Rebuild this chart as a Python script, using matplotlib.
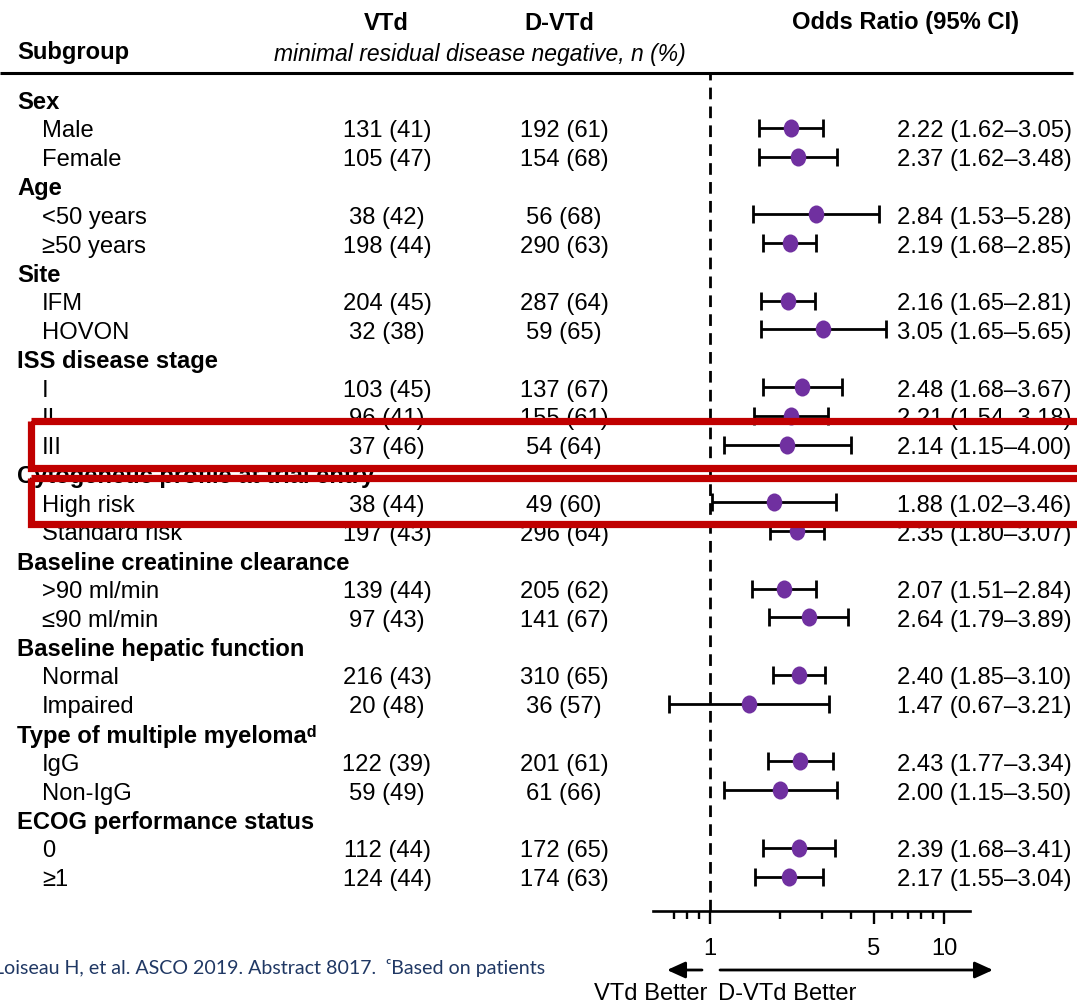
import matplotlib
matplotlib.use("Agg")
import matplotlib.pyplot as plt
import numpy as np
from matplotlib.path import Path
from matplotlib.patches import Rectangle

# subgroup table
sections = ["Sex", "Age", "Site", "ISS disease stage", "Cytogenetic profile at trial entry",
            "Baseline creatinine clearance", "Baseline hepatic function",
            "Type of multiple myeloma\u1d48", "ECOG performance status"]
section_sizes = [2, 2, 2, 3, 2, 2, 2, 2, 2]
subgroups = ["Male", "Female", "<50 years", "\u226550 years", "IFM", "HOVON", "I", "II", "III",
             "High risk", "Standard risk", ">90 ml/min", "\u226490 ml/min", "Normal", "Impaired",
             "IgG", "Non-IgG", "0", "\u22651"]
vtd_n = [131, 105, 38, 198, 204, 32, 103, 96, 37, 38, 197, 139, 97, 216, 20, 122, 59, 112, 124]
vtd_pct = [41, 47, 42, 44, 45, 38, 45, 41, 46, 44, 43, 44, 43, 43, 48, 39, 49, 44, 44]
dvtd_n = [192, 154, 56, 290, 287, 59, 137, 155, 54, 49, 296, 205, 141, 310, 36, 201, 61, 172, 174]
dvtd_pct = [61, 68, 68, 63, 64, 65, 67, 61, 64, 60, 64, 62, 67, 65, 57, 61, 66, 65, 63]
odds = [2.22, 2.37, 2.84, 2.19, 2.16, 3.05, 2.48, 2.21, 2.14, 1.88, 2.35, 2.07, 2.64, 2.40, 1.47,
        2.43, 2.00, 2.39, 2.17]
ci_low = [1.62, 1.62, 1.53, 1.68, 1.65, 1.65, 1.68, 1.54, 1.15, 1.02, 1.80, 1.51, 1.79, 1.85, 0.67,
          1.77, 1.15, 1.68, 1.55]
ci_high = [3.05, 3.48, 5.28, 2.85, 2.81, 5.65, 3.67, 3.18, 4.00, 3.46, 3.07, 2.84, 3.89, 3.10, 3.21,
           3.34, 3.50, 3.41, 3.04]

W, H = 1077, 1004
FONT = ["Liberation Sans", "DejaVu Sans"]
FS = 17.1
plt.rcParams['font.family'] = FONT

fig = plt.figure(figsize=(W / 100, H / 100), dpi=100)

# text layer in pixel coordinates
tx = fig.add_axes([0, 0, 1, 1])
tx.set_xlim(0, W)
tx.set_ylim(H, 0)
tx.axis('off')

# forest axes, pixel rows on y, log odds ratio on x
x0, x1, ytop, ybot = 653, 970, 75, 912
fx = fig.add_axes([x0 / W, 1 - ybot / H, (x1 - x0) / W, (ybot - ytop) / H])
fx.patch.set_alpha(0)
fx.set_xscale('log')
fx.set_xlim(10 ** ((x0 - 710) / 234), 10 ** ((x1 - 710) / 234))
fx.set_ylim(ybot, ytop)

# header
tx.text(386, 23, "VTd", ha='center', va='center', fontsize=FS, fontweight='bold')
tx.text(559, 23, "D-VTd", ha='center', va='center', fontsize=FS, fontweight='bold')
tx.text(905, 23, "Odds Ratio (95% CI)", ha='center', va='center', fontsize=FS, fontweight='bold')
tx.text(17, 53, "Subgroup", ha='left', va='center', fontsize=FS, fontweight='bold')
tx.text(480, 54, "minimal residual disease negative, n (%)", ha='center', va='center',
        fontsize=FS - 0.6, style='italic')
tx.plot([0, 1073], [74, 74], color='black', lw=2.2, solid_capstyle='butt')

# rows
row_step = 28.8
dy = 2.5   # text centre sits a little below the mark centre
y = 100.0
k = 0
ys = []
for sec, n in zip(sections, section_sizes):
    tx.text(17, y + dy, sec, ha='left', va='center', fontsize=FS, fontweight='bold')
    y += row_step
    for _ in range(n):
        tx.text(42, y + dy, subgroups[k], ha='left', va='center', fontsize=FS)
        tx.text(387, y + dy, f"{vtd_n[k]} ({vtd_pct[k]})", ha='center', va='center', fontsize=FS)
        tx.text(564, y + dy, f"{dvtd_n[k]} ({dvtd_pct[k]})", ha='center', va='center', fontsize=FS)
        tx.text(897, y + dy, f"{odds[k]:.2f} ({ci_low[k]:.2f}\u2013{ci_high[k]:.2f})", ha='left',
                va='center', fontsize=FS)
        ys.append(y)
        k += 1
        y += row_step

# forest marks
odds = np.array(odds)
xerr = [odds - np.array(ci_low), np.array(ci_high) - odds]
ell = Path.unit_circle().transformed(matplotlib.transforms.Affine2D().scale(0.86, 1.0))
fx.errorbar(odds, ys, xerr=xerr, fmt='none', ecolor='black', elinewidth=2.0,
            capsize=6.2, capthick=2.0, zorder=3)
fx.plot(odds, ys, linestyle='none', marker=ell, markersize=13, color='#7030A0',
        markeredgewidth=0, zorder=4)
fx.axvline(1, color='black', lw=2.0, linestyle=(0, (4.2, 2.6)), zorder=2)

for s in ['top', 'left', 'right']:
    fx.spines[s].set_visible(False)
fx.spines['bottom'].set_linewidth(1.9)
fx.set_yticks([])
fx.set_xticks([1, 5, 10])
fx.set_xticklabels(["1", "5", "10"])
fx.set_xticks([0.7, 0.8, 0.9, 2, 3, 4, 6, 7, 8, 9], minor=True)
fx.xaxis.set_minor_formatter(matplotlib.ticker.NullFormatter())
fx.tick_params(axis='x', which='major', length=9.5, width=1.7, labelsize=FS, pad=9)
fx.tick_params(axis='x', which='minor', length=5.5, width=1.7)

# direction arrows
tx.annotate("", xy=(667, 971), xytext=(702, 971),
            arrowprops=dict(arrowstyle='-|>,head_length=1.1,head_width=0.5', lw=2,
                            color='black', shrinkA=0, shrinkB=0))
tx.annotate("", xy=(993, 971), xytext=(720, 971),
            arrowprops=dict(arrowstyle='-|>,head_length=1.1,head_width=0.5', lw=2,
                            color='black', shrinkA=0, shrinkB=0))
tx.text(707, 994, "VTd Better", ha='right', va='center', fontsize=FS)
tx.text(718, 994, "D-VTd Better", ha='left', va='center', fontsize=FS)

# footnote fragment
tx.text(-6, 968, "Loiseau H, et al. ASCO 2019. Abstract 8017.  \u1d9cBased on patients",
        ha='left', va='center', fontsize=14.1, color='#203864', family=["Lato", "DejaVu Sans"])

# red highlight boxes on top
ov = fig.add_axes([0, 0, 1, 1], zorder=5)
ov.set_xlim(0, W)
ov.set_ylim(H, 0)
ov.axis('off')
ov.patch.set_alpha(0)
for top, bot in [(422, 468.5), (478.5, 524.5)]:
    ov.add_patch(Rectangle((31, top), 1100, bot - top, fill=False, edgecolor='#C00000',
                           lw=5.2, joinstyle='miter'))

fig.savefig("out.png", dpi=100)
